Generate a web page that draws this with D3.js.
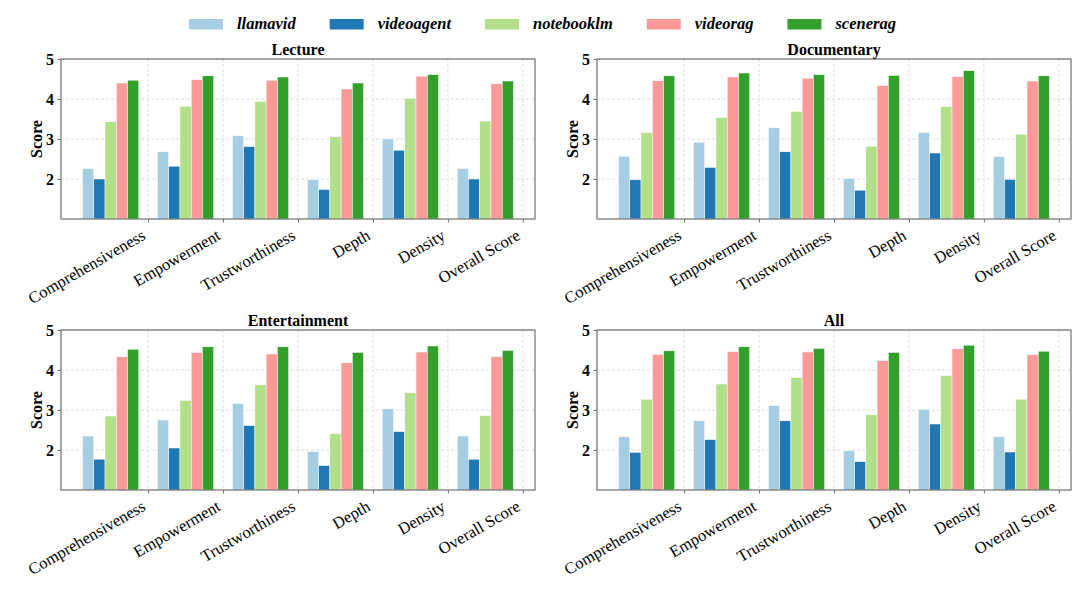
<!DOCTYPE html>
<html>
<head>
<meta charset="utf-8">
<script src="https://cdn.jsdelivr.net/npm/d3@7"></script>
<style>
  body { margin: 0; background: #fff; }
  svg text { font-family: "Liberation Serif", "Times New Roman", serif; }
</style>
</head>
<body>
<script>
var categories = ['Comprehensiveness', 'Empowerment', 'Trustworthiness', 'Depth', 'Density', 'Overall Score'];
var methods = ['llamavid', 'videoagent', 'notebooklm', 'videorag', 'scenerag'];
var colors = ['#a6cee3', '#1f78b4', '#b2df8a', '#fb9a99', '#33a02c'];
var yTicks = [2, 3, 4, 5];

// scores per method, one value per category
var lecture = [
    [2.26, 2.68, 3.08, 1.98, 3.00, 2.26],
    [2.00, 2.32, 2.81, 1.74, 2.72, 2.00],
    [3.43, 3.82, 3.94, 3.06, 4.02, 3.45],
    [4.40, 4.48, 4.47, 4.25, 4.57, 4.38],
    [4.47, 4.58, 4.55, 4.40, 4.61, 4.45]
];
var documentary = [
    [2.57, 2.92, 3.28, 2.01, 3.16, 2.56],
    [1.98, 2.29, 2.68, 1.72, 2.65, 1.99],
    [3.16, 3.54, 3.69, 2.82, 3.81, 3.12],
    [4.46, 4.55, 4.52, 4.34, 4.56, 4.45],
    [4.58, 4.65, 4.61, 4.59, 4.71, 4.58]
];
var entertainment = [
    [2.35, 2.75, 3.16, 1.96, 3.03, 2.35],
    [1.77, 2.05, 2.61, 1.61, 2.46, 1.77],
    [2.85, 3.24, 3.63, 2.41, 3.43, 2.86],
    [4.33, 4.44, 4.40, 4.18, 4.45, 4.33],
    [4.52, 4.58, 4.58, 4.44, 4.60, 4.49]
];
var all = [
    [2.33, 2.73, 3.11, 1.98, 3.02, 2.33],
    [1.94, 2.26, 2.73, 1.71, 2.65, 1.95],
    [3.27, 3.65, 3.81, 2.88, 3.86, 3.27],
    [4.39, 4.46, 4.45, 4.24, 4.53, 4.38],
    [4.48, 4.58, 4.54, 4.44, 4.62, 4.47]
];

var panels = [
    { title: 'Lecture', data: lecture, left: 61, top: 59 },
    { title: 'Documentary', data: documentary, left: 597, top: 59 },
    { title: 'Entertainment', data: entertainment, left: 61, top: 330 },
    { title: 'All', data: all, left: 597, top: 330 }
];

var barW = 0.15;
var panelW = 474;
var panelH = 160;
var svg;

window.document.addEventListener('DOMContentLoaded', init, false);

function init() {
    svg = d3.select('body').append('svg')
        .attr('width', 1080)
        .attr('height', 607)
        .attr('font-family', '"Liberation Serif", "Times New Roman", serif');
    panels.forEach(drawPanel);
    drawLegend();
}

function drawPanel(p) {
    var w = panelW;
    var h = panelH;
    var g = svg.append('g').attr('transform', 'translate(' + p.left + ',' + p.top + ')');

    var x = d3.scaleLinear().domain([-0.6625, 5.6625]).range([0, w]);
    var y = d3.scaleLinear().domain([1, 5]).range([h, 0]);
    var tickPos = categories.map(function (c, i) { return i + 0.5; });

    // grid
    g.append('g').selectAll('line').data(yTicks).join('line')
        .attr('x1', 0).attr('x2', w)
        .attr('y1', function (d) { return y(d); }).attr('y2', function (d) { return y(d); })
        .attr('stroke', '#d6d6d6').attr('stroke-width', 0.8).attr('stroke-dasharray', '3,2');
    g.append('g').selectAll('line').data(tickPos).join('line')
        .attr('y1', 0).attr('y2', h)
        .attr('x1', function (d) { return x(d); }).attr('x2', function (d) { return x(d); })
        .attr('stroke', '#d6d6d6').attr('stroke-width', 0.8).attr('stroke-dasharray', '3,2');

    // bars
    p.data.forEach(function (vals, j) {
        g.append('g').selectAll('rect').data(vals).join('rect')
            .attr('x', function (d, i) { return x(i + (j - 2) * barW - barW / 2); })
            .attr('width', x(barW) - x(0))
            .attr('y', function (d) { return y(d); })
            .attr('height', function (d) { return h - y(d); })
            .attr('fill', colors[j])
            .attr('stroke', '#ffffff')
            .attr('stroke-width', 0.5);
    });

    // frame
    g.append('rect').attr('width', w).attr('height', h)
        .attr('fill', 'none').attr('stroke', '#6e6e6e').attr('stroke-width', 1.2);

    // x axis
    var xAxis = g.append('g').attr('transform', 'translate(0,' + h + ')')
        .call(d3.axisBottom(x).tickValues(tickPos).tickSize(3.5)
            .tickFormat(function (d, i) { return categories[i]; }));
    xAxis.attr('font-family', null);
    xAxis.select('.domain').remove();
    xAxis.selectAll('line').attr('stroke', '#6e6e6e');
    xAxis.selectAll('text')
        .attr('font-size', 16.5)
        .attr('fill', '#000')
        .attr('text-anchor', 'end')
        .attr('dy', null)
        .attr('y', 0)
        .attr('transform', 'translate(-2,19.5) rotate(-30)');

    // y axis
    var yAxis = g.append('g')
        .call(d3.axisLeft(y).tickValues(yTicks).tickSize(3.5).tickPadding(3.5).tickFormat(d3.format('d')));
    yAxis.attr('font-family', null);
    yAxis.select('.domain').remove();
    yAxis.selectAll('line').attr('stroke', '#6e6e6e');
    yAxis.selectAll('text')
        .attr('font-size', 16)
        .attr('font-weight', 'bold')
        .attr('fill', '#000');

    g.append('text')
        .attr('transform', 'translate(-19,' + (h / 2) + ') rotate(-90)')
        .attr('text-anchor', 'middle')
        .attr('font-size', 16)
        .attr('font-weight', 'bold')
        .text('Score');

    g.append('text')
        .attr('x', w / 2).attr('y', -4)
        .attr('text-anchor', 'middle')
        .attr('font-size', 16)
        .attr('font-weight', 'bold')
        .text(p.title);
}

function drawLegend() {
    var lg = svg.append('g');
    var cx = 189;
    methods.forEach(function (m, i) {
        lg.append('rect')
            .attr('x', cx).attr('y', 19)
            .attr('width', 34).attr('height', 10.5)
            .attr('fill', colors[i]);
        var t = lg.append('text')
            .attr('x', cx + 48).attr('y', 29)
            .attr('font-size', 16.5)
            .attr('font-weight', 'bold')
            .attr('font-style', 'italic')
            .text(m);
        cx += 48 + t.node().getComputedTextLength() + 34;
    });
}
</script>
</body>
</html>
